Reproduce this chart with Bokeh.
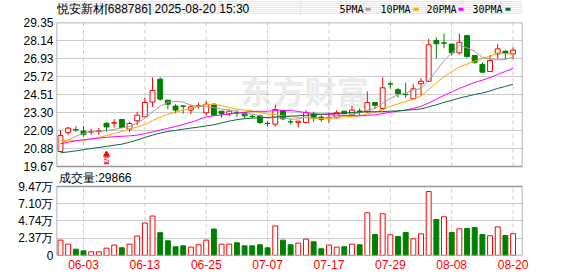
from bokeh.plotting import figure
from bokeh.models import Range1d, FixedTicker, Label, ColumnDataSource
from bokeh.layouts import column
from bokeh.embed import file_html
from bokeh.resources import INLINE
from bokeh.core.properties import value

# ---------------- data ----------------
dates = ["05-28", "05-29", "05-30",
         "06-03", "06-04", "06-05", "06-06", "06-09", "06-10", "06-11", "06-12", "06-13",
         "06-16", "06-17", "06-18", "06-19", "06-20", "06-23", "06-24", "06-25", "06-26",
         "06-27", "06-30",
         "07-01", "07-02", "07-03", "07-04", "07-07", "07-08", "07-09", "07-10", "07-11",
         "07-14", "07-15", "07-16", "07-17", "07-18", "07-21", "07-22", "07-23", "07-24",
         "07-25", "07-28", "07-29", "07-30", "07-31",
         "08-01", "08-04", "08-05", "08-06", "08-07", "08-08", "08-11", "08-12", "08-13",
         "08-14", "08-15", "08-18", "08-19", "08-20"]

open_ = [20.68, 21.96, 22.15, 22.05, 21.98, 22.02, 22.58, 22.58, 22.83, 22.18,
         22.74, 23.01, 24.00, 25.54, 24.13, 23.73, 23.74, 23.46, 23.72, 23.28,
         23.86, 23.39, 23.21, 23.29, 23.28, 23.04, 23.08, 22.57, 22.52, 23.43,
         22.68, 22.63, 22.63, 23.17, 22.99, 22.95, 22.94, 23.39, 23.19, 23.40,
         23.35, 23.97, 23.57, 25.23, 24.83, 24.52, 24.22, 25.23, 25.40, 28.14,
         27.98, 27.90, 27.31, 28.47, 27.13, 26.53, 26.06, 27.24, 27.42, 27.24]

high = [22.11, 22.34, 22.38, 22.40, 22.22, 22.26, 22.62, 22.85, 22.85, 22.67,
        23.35, 24.31, 25.65, 25.65, 24.13, 23.86, 23.79, 23.84, 23.95, 24.06,
        23.90, 23.39, 23.50, 23.46, 23.28, 23.17, 23.17, 22.74, 23.82, 23.43,
        22.88, 22.74, 23.46, 23.35, 23.12, 23.28, 23.46, 23.39, 23.73, 23.57,
        24.72, 23.97, 25.67, 25.38, 24.95, 25.30, 25.20, 25.60, 28.24, 28.36,
        28.60, 27.90, 28.61, 28.47, 27.13, 26.68, 27.18, 27.92, 27.47, 27.68]

low = [20.64, 21.78, 22.00, 21.67, 21.80, 21.80, 22.00, 22.29, 22.27, 22.00,
       22.45, 23.00, 23.68, 24.09, 23.52, 23.23, 23.23, 23.19, 23.57, 23.12,
       23.10, 22.94, 23.05, 23.01, 22.88, 22.90, 22.52, 22.34, 22.34, 22.78,
       22.49, 22.29, 22.56, 22.67, 22.67, 22.61, 22.90, 23.17, 23.12, 23.12,
       23.27, 23.53, 23.53, 24.90, 24.31, 24.30, 24.22, 24.43, 25.35, 26.93,
       27.62, 27.12, 27.20, 26.98, 26.57, 25.97, 26.04, 26.91, 26.91, 26.90]

close_ = [21.75, 22.25, 22.13, 21.84, 22.01, 22.06, 22.33, 22.62, 22.29, 22.56,
          23.12, 23.97, 24.78, 24.20, 23.86, 23.46, 23.72, 23.68, 23.76, 23.86,
          23.12, 23.21, 23.39, 23.27, 23.08, 23.03, 22.63, 22.56, 23.50, 22.87,
          22.67, 22.72, 23.30, 22.90, 22.85, 22.97, 23.28, 23.23, 23.46, 23.38,
          23.97, 23.79, 24.96, 25.21, 24.56, 24.50, 24.89, 25.40, 27.85, 27.92,
          27.96, 27.31, 28.02, 27.06, 26.68, 26.01, 26.80, 27.58, 27.29, 27.49]

ma5 = [21.19, 21.45, 21.70, 21.90, 22.00, 22.06, 22.07, 22.17, 22.26, 22.37,
       22.58, 22.91, 23.34, 23.73, 23.99, 24.05, 24.00, 23.78, 23.70, 23.70,
       23.63, 23.53, 23.47, 23.37, 23.21, 23.20, 23.08, 22.91, 22.96, 22.92,
       22.85, 22.86, 23.01, 22.89, 22.89, 22.95, 23.06, 23.05, 23.16, 23.26,
       23.46, 23.57, 23.91, 24.26, 24.49, 24.60, 24.82, 24.91, 25.44, 26.11,
       26.80, 27.29, 27.81, 27.65, 27.41, 27.02, 26.91, 26.83, 26.87, 27.03]

ma10 = [21.42, 21.40, 21.40, 21.42, 21.50, 21.62, 21.75, 21.88, 22.03, 22.18,
        22.32, 22.49, 22.76, 22.99, 23.18, 23.32, 23.46, 23.56, 23.71, 23.84,
        23.84, 23.77, 23.63, 23.53, 23.46, 23.41, 23.30, 23.19, 23.17, 23.07,
        23.02, 22.97, 22.96, 22.93, 22.90, 22.90, 22.96, 23.03, 23.03, 23.08,
        23.21, 23.31, 23.48, 23.71, 23.88, 24.03, 24.19, 24.41, 24.85, 25.30,
        25.70, 26.05, 26.36, 26.55, 26.76, 26.91, 27.10, 27.32, 27.26, 27.22]

ma20 = [21.20, 21.30, 21.40, 21.47, 21.53, 21.58, 21.63, 21.67, 21.70, 21.73,
        21.78, 21.88, 22.00, 22.12, 22.24, 22.36, 22.50, 22.64, 22.82, 23.01,
        23.08, 23.13, 23.19, 23.26, 23.32, 23.37, 23.38, 23.38, 23.44, 23.45,
        23.43, 23.37, 23.29, 23.23, 23.18, 23.15, 23.13, 23.11, 23.10, 23.07,
        23.11, 23.14, 23.22, 23.32, 23.39, 23.46, 23.58, 23.72, 23.94, 24.19,
        24.45, 24.68, 24.92, 25.13, 25.32, 25.47, 25.65, 25.86, 26.06, 26.26]

ma30 = [20.59, 20.65, 20.72, 20.80, 20.88, 20.95, 21.02, 21.10, 21.17, 21.30,
        21.45, 21.62, 21.78, 21.92, 22.02, 22.10, 22.18, 22.25, 22.32, 22.40,
        22.48, 22.60, 22.72, 22.82, 22.88, 22.92, 22.95, 22.97, 23.00, 23.03,
        23.06, 23.08, 23.12, 23.15, 23.18, 23.21, 23.24, 23.26, 23.30, 23.33,
        23.36, 23.35, 23.36, 23.39, 23.41, 23.45, 23.49, 23.54, 23.68, 23.82,
        23.98, 24.11, 24.27, 24.39, 24.51, 24.61, 24.75, 24.92, 25.05, 25.20]

# volume in 万 (10k)
volume = [2.11, 1.56, 0.87, 0.64, 0.51, 0.51, 1.01, 1.43, 1.06, 1.56,
          2.67, 4.46, 5.42, 3.13, 2.02, 1.20, 1.33, 1.15, 1.47, 2.11,
          3.63, 1.56, 1.56, 1.75, 1.33, 1.33, 1.47, 1.06, 4.05, 2.11,
          1.47, 1.70, 2.25, 1.88, 0.92, 1.43, 1.15, 1.20, 1.56, 1.47,
          5.86, 2.88, 5.72, 2.84, 2.61, 3.16, 2.29, 2.97, 8.78, 4.94,
          5.31, 3.16, 3.66, 3.71, 3.84, 2.88, 2.70, 3.93, 2.75, 2.99]

volume_up = [1, 1, 0, 0, 1, 1, 1, 1, 0, 1,
             1, 1, 1, 0, 0, 0, 0, 1, 1, 1,
             0, 1, 1, 0, 0, 0, 0, 0, 1, 0,
             0, 1, 1, 0, 0, 1, 1, 0, 1, 0,
             1, 0, 1, 1, 0, 0, 1, 1, 1, 0,
             1, 0, 1, 0, 0, 0, 1, 1, 0, 1]

last_volume = 29866
price_ticks = [19.67, 20.88, 22.09, 23.30, 24.51, 25.72, 26.93, 28.14, 29.35]
volume_ticks = [0, 2.37, 4.74, 7.10, 9.47]
volume_tick_labels = ["0", "2.37万", "4.74万", "7.10万", "9.47万"]
date_tick_labels = ["06-03", "06-13", "06-25", "07-07", "07-17", "07-29", "08-08", "08-20"]
ma_names = ["5PMA", "10PMA", "20PMA", "30PMA"]
title_text = "悦安新材[688786] 2025-08-20 15:30"
signal_date = "06-06"
signal_text = "S"

# ---------------- styles / layout ----------------
RED = "#FF0000"
GREEN = "#008000"
MA_COLORS = ["#A0A0A0", "#FFA500", "#FF00FF", "#0B6B3A"]
GRID = "#CCCCCC"
BOX = "#999999"
FONT = "Liberation Sans"
MONO = "DejaVu Sans Mono"
W = 578
HH = 15                    # header strip height
FRAME_H = 233              # frame: canvas y 22 .. 255
PRICE_H = 144              # price panel pixels (top of frame)
GAP_H = 20                 # gap between panels
VOL_H = FRAME_H - PRICE_H - GAP_H   # 69

x = list(range(len(dates)))
tick_idx = [dates.index(d) for d in date_tick_labels]
up = [c >= o for o, c in zip(open_, close_)]

csrc = ColumnDataSource(dict(
    x=x, high=high, low=low,
    top=[max(o, c) for o, c in zip(open_, close_)],
    bottom=[min(o, c) for o, c in zip(open_, close_)],
    line=[RED if u else GREEN for u in up],
    fill=["white" if u else GREEN for u in up],
))
vsrc = ColumnDataSource(dict(
    x=x, vol=volume,
    line=[RED if u else GREEN for u in volume_up],
    fill=["white" if u else GREEN for u in volume_up],
))

# ranges: price occupies the top PRICE_H px, volume the bottom VOL_H px
p_lo, p_hi = price_ticks[0], price_ticks[-1]
p_per_px = (p_hi - p_lo) / PRICE_H
y_start = p_lo - (FRAME_H - PRICE_H) * p_per_px
v_hi = volume_ticks[-1]
v_per_px = v_hi / VOL_H
v_end = v_hi + (FRAME_H - VOL_H) * v_per_px

def vol_to_primary(v):
    return y_start + (v / v_per_px) * p_per_px

xr = Range1d(-0.52, 60.23)

# ---------------- header strip (title + legend), pixel coordinates ----------------
hdr = figure(width=W, height=HH, x_range=Range1d(56, W - 56), y_range=Range1d(0, HH),
             x_axis_location=None, y_axis_location=None, toolbar_location=None,
             output_backend="svg", min_border_left=56, min_border_right=56,
             min_border_top=0, min_border_bottom=0)
hdr.outline_line_color = None
hdr.background_fill_color = "white"
hdr.border_fill_color = "white"
hdr.text([56], [HH - 8], text=[title_text], text_font=value(FONT), text_font_size="12px",
         text_color="#000000", text_baseline="middle", text_align="left")
leg_text_x = [339, 380, 426, 472]
leg_mark_x = [367.5, 415.5, 460.5, 507.5]
hdr.text(leg_text_x, [HH - 8.5] * 4, text=ma_names, text_font=value(MONO),
         text_font_size="10px", text_color="#000000", text_baseline="middle", text_align="left")
hdr.rect(leg_mark_x, [HH - 8.7] * 4, width=5, height=3, fill_color=MA_COLORS, line_color=None)

# ---------------- main figure (price + volume) ----------------
p = figure(width=W, height=276 - HH, x_range=xr, y_range=Range1d(y_start, p_hi),
           toolbar_location=None, output_backend="svg",
           min_border_left=56, min_border_right=56, min_border_top=22 - HH, min_border_bottom=21)
p.extra_y_ranges = {"vol": Range1d(0, v_end)}
p.background_fill_color = "white"
p.border_fill_color = "white"
p.outline_line_color = None

vol_tick_pos = [vol_to_primary(t) for t in volume_ticks]
overrides = {t: "%.2f" % t for t in price_ticks}
overrides.update({pos: lab for pos, lab in zip(vol_tick_pos, volume_tick_labels)})
p.yaxis.ticker = FixedTicker(ticks=price_ticks + vol_tick_pos)
p.yaxis.major_label_overrides = overrides
p.xaxis.ticker = FixedTicker(ticks=tick_idx)
p.xaxis.major_label_overrides = {i: lab for i, lab in zip(tick_idx, date_tick_labels)}
for ax in list(p.xaxis) + list(p.yaxis):
    ax.major_tick_out = 0
    ax.major_tick_in = 0
    ax.minor_tick_out = 0
    ax.minor_tick_in = 0
    ax.axis_line_color = None
    ax.major_label_text_font = FONT
    ax.major_label_text_font_size = "12px"
for ax in p.yaxis:
    ax.major_label_standoff = 3
    ax.major_label_text_color = "#000000"
for ax in p.xaxis:
    ax.major_label_standoff = 4
    ax.major_label_text_color = RED
p.ygrid.grid_line_color = GRID
p.xgrid.grid_line_color = None

# watermark (behind everything)
p.add_layout(Label(x=184, y=166, x_units="screen", y_units="screen", text="东方财富",
                   text_font="Noto Sans CJK SC", text_font_size="32px", text_font_style="bold",
                   text_color="#EBEBEB", text_baseline="middle", level="underlay"))

# vertical dashed date grid, separately in each panel
n = len(tick_idx)
p.segment(tick_idx, [p_lo] * n, tick_idx, [p_hi] * n, line_color=GRID, line_dash="4 3")
p.segment(tick_idx, [0] * n, tick_idx, [v_hi] * n, line_color=GRID, line_dash="4 3",
          y_range_name="vol")

# candles
p.segment(x0="x", y0="high", x1="x", y1="low", source=csrc, line_color="line", line_width=1)
p.vbar(x="x", width=0.64, top="top", bottom="bottom", source=csrc,
       fill_color="fill", line_color="line", line_width=1)

# MA lines
for ma, col in zip([ma5, ma10, ma20, ma30], MA_COLORS):
    p.line(x, ma, line_color=col, line_width=1)

# signal marker
si = dates.index(signal_date)
p.scatter([si], [20.48], marker="triangle", size=6, fill_color=RED, line_color=RED)
p.text([si], [20.14], text=[signal_text], text_color=RED, text_font=value(FONT),
       text_font_size="9px", text_align="center", text_baseline="middle")
p.segment([si - 0.33], [19.86], [si + 0.33], [19.86], line_color=RED, line_width=1)

# volume bars
p.vbar(x="x", width=0.64, top="vol", bottom=0, source=vsrc, y_range_name="vol",
       fill_color="fill", line_color="line", line_width=1)

# panel boxes
p.quad(left=[xr.start], right=[xr.end], bottom=[p_lo], top=[p_hi],
       fill_color=None, line_color=BOX, line_width=1.5)
p.quad(left=[xr.start], right=[xr.end], bottom=[0], top=[v_hi], y_range_name="vol",
       fill_color=None, line_color=BOX, line_width=1.5)

# volume caption in the gap
p.text([xr.start + 0.3], [p_hi - 155 * p_per_px], text=["成交量:" + str(last_volume)],
       text_font=value(FONT), text_font_size="12px", text_color="#000000",
       text_baseline="middle", text_align="left")

layout = column(hdr, p, spacing=0)
open("out.html", "w").write(file_html(layout, INLINE))
